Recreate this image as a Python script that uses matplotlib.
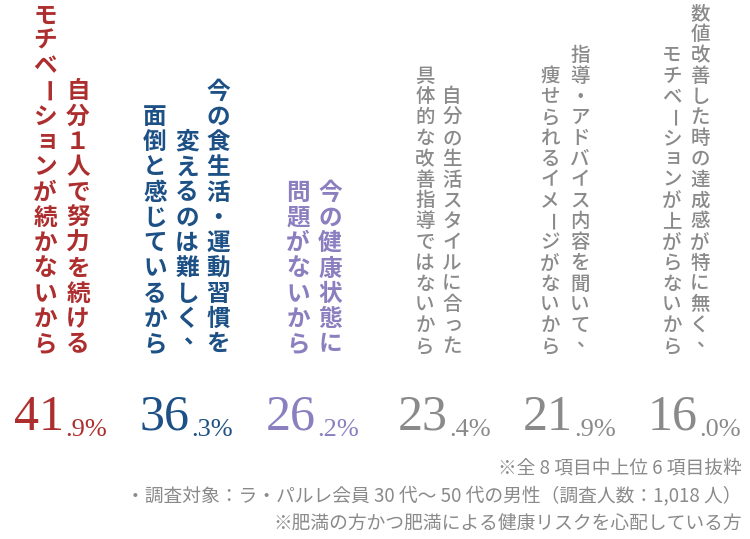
import matplotlib
matplotlib.use("Agg")
import matplotlib.pyplot as plt

categories = [
    ["自分１人で努力を続ける", "モチベーションが続かないから"],
    ["今の食生活・運動習慣を", "変えるのは難しく、", "面倒と感じているから"],
    ["今の健康状態に", "問題がないから"],
    ["自分の生活スタイルに合った", "具体的な改善指導ではないから"],
    ["指導・アドバイス内容を聞いて、", "痩せられるイメージがないから"],
    ["数値改善した時の達成感が特に無く、", "モチベーションが上がらないから"],
]
values = [41.9, 36.3, 26.2, 23.4, 21.9, 16.0]
colors = ["#ad2e2e", "#1d5186", "#8b7fc0", "#8a8a8a", "#8a8a8a", "#8a8a8a"]
notes = ["※全 8 項目中上位 6 項目抜粋",
         "・調査対象：ラ・パルレ会員 30 代〜 50 代の男性（調査人数：1,018 人）",
         "※肥満の方かつ肥満による健康リスクを心配している方"]

col_x = [[78, 45], [218, 187, 155], [330, 298], [452, 425], [580, 550], [700, 672]]
num_x = [14, 140, 266, 398, 523, 648]
bottom = 357

fig = plt.figure(figsize=(7.5, 5.39), dpi=100)
ax = fig.add_axes([0, 0, 1, 1])
ax.set_xlim(0, 750); ax.set_ylim(539, 0); ax.axis("off")
jp = ["Noto Sans CJK JP", "DejaVu Sans"]

for i, lines in enumerate(categories):
    big = i < 3
    step = 25.3 if big else 20.8
    fs = 17 if big else 14
    for line, x in zip(lines, col_x[i]):
        n = len(line)
        for k, ch in enumerate(line):
            y = bottom - (n - k - 0.5) * step
            rot = 0; dx = 0; dy = 0
            if ch in "ー〜":
                rot = -90
            elif ch in "、。":
                dx, dy = step * 0.3, -step * 0.3
            elif ch in "ぁぃぅぇぉっゃゅょァィゥェォッャュョ":
                dx, dy = step * 0.08, -step * 0.08
            ax.text(x + dx, y + dy, ch, ha="center", va="center", rotation=rot,
                    fontsize=fs, color=colors[i], family=jp, fontweight="bold" if big else "medium")
    s = f"{values[i]:.1f}"
    ip, dp = s.split(".")
    t = ax.text(num_x[i], 430, ip, fontsize=36, color=colors[i], family="Liberation Serif",
                ha="left", va="baseline")
    ax.annotate("." + dp + "%", xycoords=t, xy=(1, 0), xytext=(1, 0), textcoords="offset points",
                fontsize=19, color=colors[i], family="Liberation Serif", ha="left", va="bottom")

for j, nt in enumerate(notes):
    ax.text(742, 468 + j * 28, nt, ha="right", va="center", fontsize=13.5, color="#8a8a8a", family=jp)

fig.savefig("out.png", dpi=100, facecolor="white")
